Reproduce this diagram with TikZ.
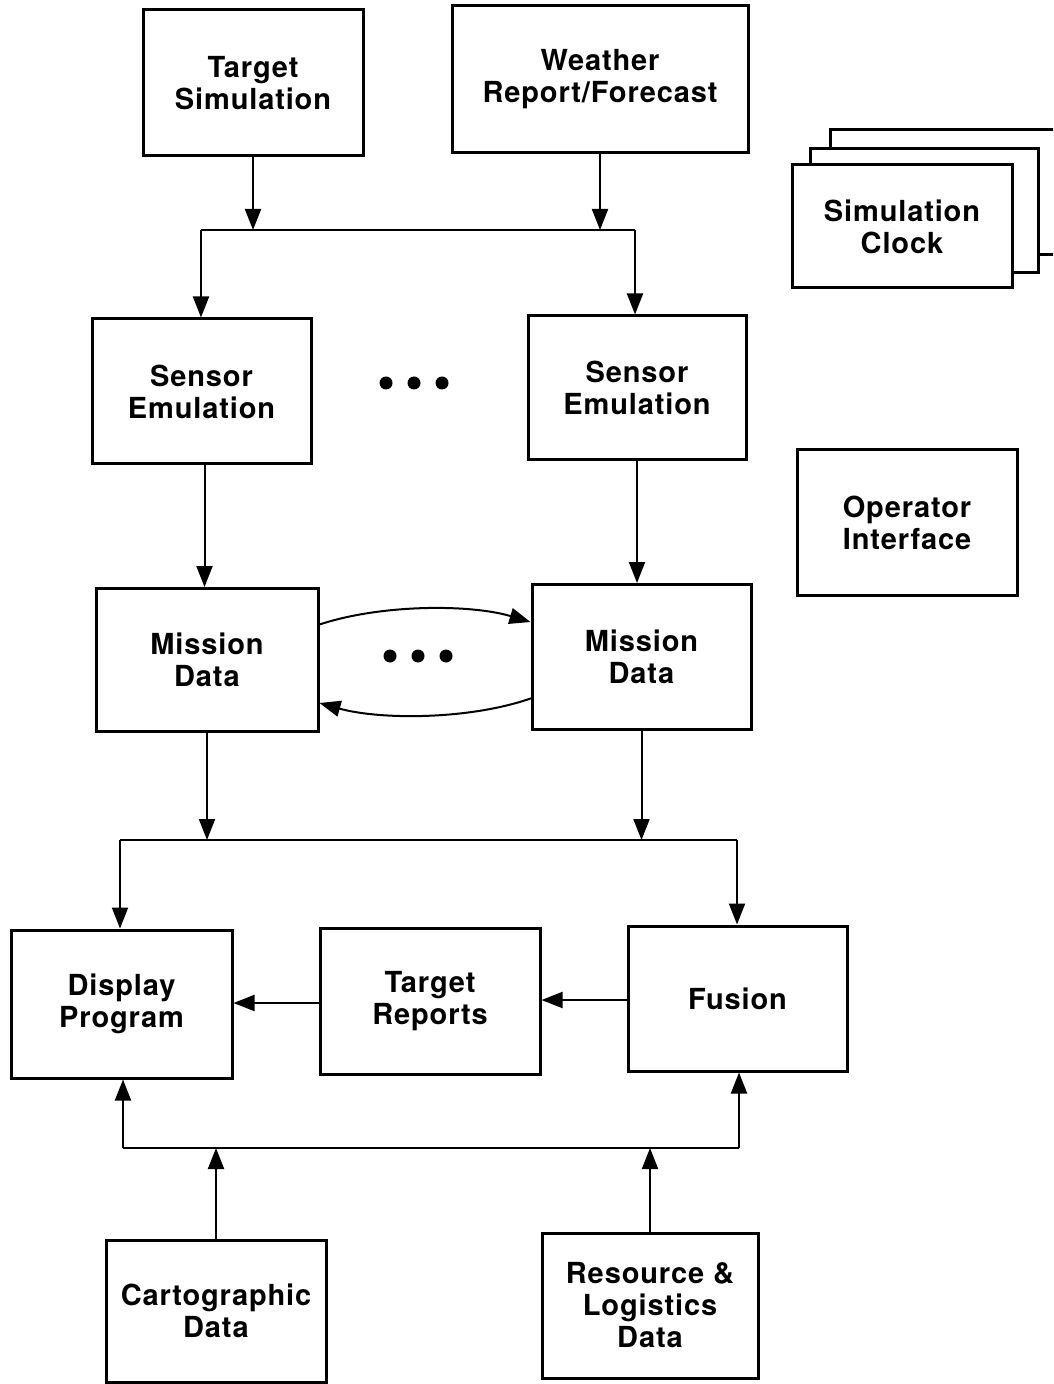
\documentclass[tikz,border=0pt]{standalone}
\usepackage{fontspec}
\setmainfont{TeX Gyre Heros}[LetterSpace=3]
\usetikzlibrary{arrows.meta,calc}
\begin{document}
\begin{tikzpicture}[x=0.5pt,y=-0.5pt,
  box/.style={draw,line width=1.5pt,fill=white,align=center,inner sep=0pt,
    font=\fontsize{14.5pt}{16pt}\selectfont\bfseries},
  wire/.style={line width=1pt},
  arr/.style={wire,-{Triangle[length=10.5pt,width=8pt]}},
  dot/.style={circle,fill=black,inner sep=0pt,minimum size=6.5pt}]
\clip (0,0) rectangle (1053,1384);
\fill[white] (0,0) rectangle (1053,1384);

% source boxes
\node[box,minimum width=110pt,minimum height=73pt] (ts) at (253,83) {Target\\Simulation};
\node[box,minimum width=148pt,minimum height=73.5pt] (wr) at (600,79.5) {Weather\\Report/Forecast};

% stacked clock cards, back to front
\draw[line width=1.5pt,fill=white] (830,130) rectangle (1070,255);
\draw[line width=1.5pt,fill=white] (810,149) rectangle (1038,273);
\node[box,minimum width=110pt,minimum height=61.5pt] (sc) at (902,226.5) {Simulation\\Clock};

% sensors and operator
\node[box,minimum width=109.5pt,minimum height=72.5pt] (se1) at (201.5,391.5) {Sensor\\Emulation};
\node[box,minimum width=109pt,minimum height=72pt] (se2) at (637,388) {Sensor\\Emulation};
\node[box,minimum width=110pt,minimum height=72.5pt] (oi) at (907,522.5) {Operator\\Interface};

% mission data
\node[box,minimum width=111pt,minimum height=71.5pt] (md1) at (207,660) {Mission\\Data};
\node[box,minimum width=109.5pt,minimum height=72.5pt] (md2) at (641.5,657) {Mission\\Data};

% processing row
\node[box,minimum width=110.5pt,minimum height=74pt] (dp) at (121.5,1004) {Display\\Program};
\node[box,minimum width=110pt,minimum height=73pt] (tr) at (430,1001) {Target\\Reports};
\node[box,minimum width=109.5pt,minimum height=72.5pt] (fu) at (737.5,998.5) {Fusion};

% data stores
\node[box,minimum width=110pt,minimum height=71pt] (cd) at (216,1311) {Cartographic\\Data};
\node[box,minimum width=108pt,minimum height=72.5pt] (rl) at (650,1305.5) {Resource \&\\Logistics\\Data};

% ellipsis dots
\node[dot] (e1) at (386,383) {};
\node[dot] (e2) at (414,383) {};
\node[dot] (e3) at (442,383) {};
\node[dot] (f1) at (390,656) {};
\node[dot] (f2) at (418,656) {};
\node[dot] (f3) at (446,656) {};

% bus junctions and connector anchors
\coordinate (b1l) at (201,230);
\coordinate (b1r) at (635,230);
\coordinate (b2l) at (120,840);
\coordinate (b2r) at (737,840);
\coordinate (b3l) at (123,1148);
\coordinate (b3r) at (739,1148);
\coordinate (fuw) at (628,1000);
\coordinate (trw) at (320,1003);

% top distribution
\draw[wire] (b1l) -- (b1r);
\draw[arr] (ts.south) -- (ts.south |- b1l);
\draw[arr] (wr.south) -- (wr.south |- b1l);
\draw[arr] (b1l) -- (b1l |- se1.north);
\draw[arr] (b1r) -- (b1r |- se2.north);

% sensors to mission data
\draw[arr] ([xshift=1.5pt]se1.south) -- ([xshift=1.5pt]se1.south |- md1.north);
\draw[arr] (se2.south) -- (se2.south |- md2.north);

% exchange between mission data
\draw[arr] (318,625) .. controls (380,604) and (470,604) .. (md2.west |- 0,622);
\draw[arr] (532,698) .. controls (470,720) and (380,720) .. (md1.east |- 0,703);

% middle distribution
\draw[wire] (b2l) -- (b2r);
\draw[arr] (md1.south) -- (md1.south |- b2l);
\draw[arr] (md2.south) -- (md2.south |- b2l);
\draw[arr] (b2l) -- (b2l |- dp.north);
\draw[arr] (b2r) -- (b2r |- fu.north);

% report chain
\draw[arr] (fuw) -- (fuw -| tr.east);
\draw[arr] (trw) -- (trw -| dp.east);

% bottom collection
\draw[wire] (b3l) -- (b3r);
\draw[arr] (b3l) -- (b3l |- dp.south);
\draw[arr] (b3r) -- (b3r |- fu.south);
\draw[arr] (cd.north) -- (cd.north |- b3l);
\draw[arr] (rl.north) -- (rl.north |- b3l);
\end{tikzpicture}
\end{document}
